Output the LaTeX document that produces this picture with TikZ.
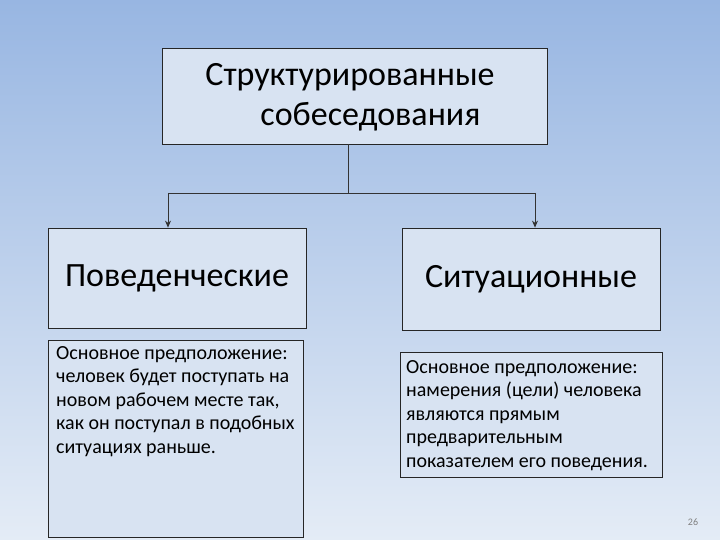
\documentclass[tikz,border=0pt]{standalone}
\usepackage{fontspec}
\usetikzlibrary{arrows.meta}
\setmainfont{Carlito}
\begin{document}
\begin{tikzpicture}[x=1pt,y=-1pt,
 box/.style={draw=black!85,fill=bxfill,line width=0.8pt},
 big/.style={font=\fontsize{34}{40}\selectfont,align=center},
 small/.style={font=\fontsize{20}{23.5}\selectfont,align=left,anchor=north west,inner sep=0pt},
 conn/.style={draw=black!80,line width=0.8pt},
 arr/.style={conn,-{Stealth[length=7pt,width=6pt]}}]
\definecolor{bxfill}{HTML}{D8E3F2}
\definecolor{bgtop}{HTML}{98B6E2}
\definecolor{bgbot}{HTML}{E4ECF6}
\shade[top color=bgtop,bottom color=bgbot] (0,0) rectangle (720,540);
\useasboundingbox (0,0) rectangle (720,540);
\node[box,minimum width=385pt,minimum height=96pt] (top) at (354.5,96) {};
\node[big] (toptext) at (350,97) {Структурированные\\\hspace*{1.2em}собеседования};
\node[box,minimum width=258pt,minimum height=100pt] (l) at (177,278) {};
\node[big] at (l) {Поведенческие};
\node[box,minimum width=258pt,minimum height=102pt] (r) at (531,279) {};
\node[big] at (r) {Ситуационные};
\node[box,minimum width=255pt,minimum height=197pt] (ll) at (175.5,438.5) {};
\node[small] (llt) at (56,346) {Основное предположение:\\человек будет поступать на\\новом рабочем месте так,\\как он поступал в подобных\\ситуациях раньше.};
\node[box,minimum width=262pt,minimum height=125pt] (rr) at (531,414.5) {};
\node[small] (rrt) at (406,360) {Основное предположение:\\намерения (цели) человека\\являются прямым\\предварительным\\показателем его поведения.};
\coordinate (j) at (348,193);
\coordinate (jl) at (168,193);
\coordinate (jr) at (535,193);
\draw[conn] (top.south -| j) -- (j);
\draw[conn] (jl) -- (jr);
\draw[arr] (jl) -- (jl |- l.north);
\draw[arr] (jr) -- (jr |- r.north);
\node[font=\fontsize{10}{12}\selectfont,text=black!50] (pg) at (693,522) {26};
\end{tikzpicture}
\end{document}
